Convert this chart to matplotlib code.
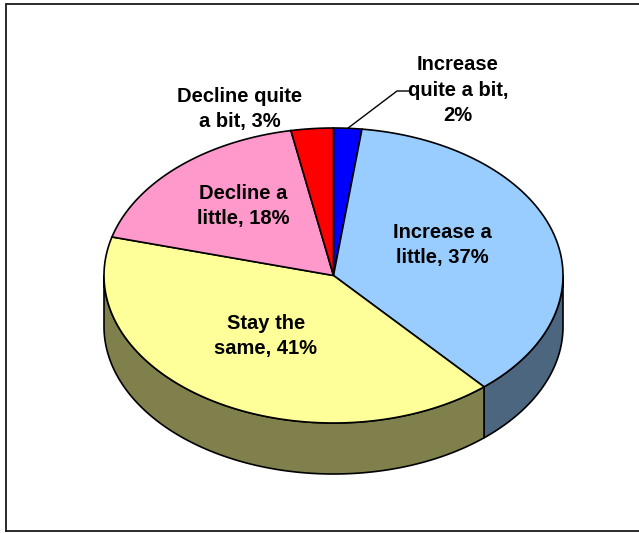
import matplotlib.pyplot as plt
import numpy as np
from matplotlib.patches import Polygon

plt.rcParams['font.family'] = ['Liberation Sans', 'DejaVu Sans']

# survey answers, clockwise from 12 o'clock
labels = ["Increase\nquite a bit,\n", "Increase a\nlittle, ", "Stay the\nsame, ",
          "Decline a\nlittle, ", "Decline quite\na bit, "]
values = [2, 37, 41, 18, 3]
colors = ["#0000FF", "#99CCFF", "#FFFF99", "#FF99CC", "#FF0000"]

# label anchors (pixels)
label_xy = [(458, 90), (442, 245), (266, 336), (243, 206), (240, 109)]

# pie geometry in pixels
cx, cy = 333.5, 275.5
rx, ry = 229.5, 147.5
depth = 51


def ellipse_pts(t1, t2, dy=0.0, n=200):
    t = np.radians(np.linspace(t1, t2, n))
    return np.column_stack([cx + rx * np.sin(t), cy - ry * np.cos(t) + dy])


def shade(c, k=0.5):
    r, g, b = [int(c[i:i + 2], 16) for i in (1, 3, 5)]
    return (r * k / 255, g * k / 255, b * k / 255)


fig = plt.figure(figsize=(6.39, 5.33), dpi=100)
ax = fig.add_axes([0, 0, 1, 1])
ax.set_xlim(0, 639)
ax.set_ylim(533, 0)
ax.axis('off')

total = float(sum(values))
bounds = np.concatenate([[0], np.cumsum(values)]) / total * 360.0

# outer wall, only the front half (90..270 deg) shows
for i in range(len(values)):
    a1, a2 = max(bounds[i], 90), min(bounds[i + 1], 270)
    if a2 <= a1:
        continue
    top = ellipse_pts(a1, a2)
    bot = ellipse_pts(a1, a2, depth)[::-1]
    ax.add_patch(Polygon(np.vstack([top, bot]), closed=True,
                         facecolor=shade(colors[i]), edgecolor='black',
                         linewidth=1.2, zorder=2))

# top face wedges
for i in range(len(values)):
    arc = ellipse_pts(bounds[i], bounds[i + 1])
    pts = np.vstack([[cx, cy], arc])
    ax.add_patch(Polygon(pts, closed=True, facecolor=colors[i],
                         edgecolor='black', linewidth=1.2, zorder=3))

# data labels
for (x, y), lab, v in zip(label_xy, labels, values):
    ax.text(x, y, f"{lab}{v}%", ha='center', va='center',
            fontsize=14.5, fontweight='bold', linespacing=1.45, zorder=5)

# leader line for the small blue slice
mid = ellipse_pts(bounds[0], bounds[1], n=3)[1]
ax.plot([mid[0], 397, 409], [mid[1], 91, 91], color='black', lw=1, zorder=4)

# chart frame
ax.plot([6, 6, 645], [531, 4, 4], color='#1a1a1a', lw=1.3, zorder=6,
        solid_joinstyle='miter')
ax.plot([6, 645], [531, 531], color='#1a1a1a', lw=1.3, zorder=6)

fig.savefig("out.png", dpi=100)
